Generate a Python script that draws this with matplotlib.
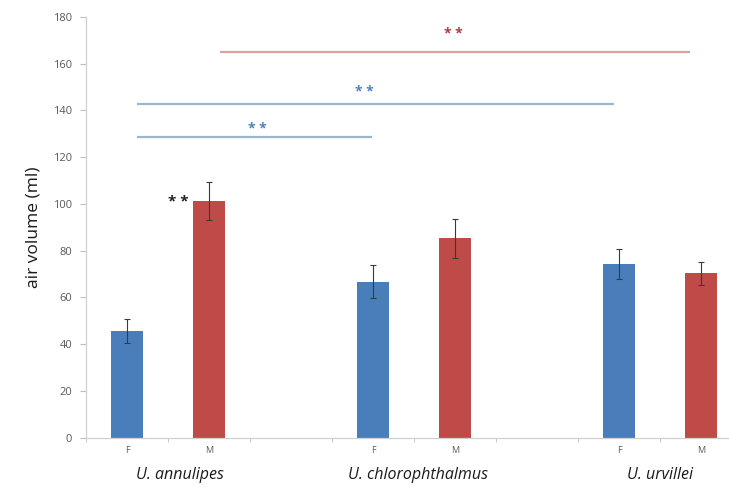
import matplotlib.pyplot as plt
import matplotlib.transforms as mtransforms

plt.rcParams['font.family'] = ['Open Sans', 'DejaVu Sans']

# bar data: F/M per species, with a blank slot between species
species = ['U. annulipes', 'U. chlorophthalmus', 'U. urvillei']
sex_labels = ['F', 'M', '', 'F', 'M', '', 'F', 'M']
female_mean = [45.7, 66.8, 74.2]
female_err = [5.3, 7.0, 6.5]
male_mean = [101.3, 85.3, 70.3]
male_err = [8.0, 8.3, 5.0]

# significance brackets between groups
sig_x0 = [0.12, 0.12, 1.13]
sig_x1 = [2.99, 5.94, 6.87]
sig_y = [128.8, 142.8, 164.9]
sig_star_x = [1.59, 2.89, 3.98]
sig_star_y = [132.0, 147.8, 172.8]
sig_line_col = ['#9bb6cc', '#9bb6cc', '#d7a3a3']
sig_star_col = ['#4f81bd', '#4f81bd', '#b03a40']

blue = '#4a7ebb'
red = '#be4b48'

fig = plt.figure(figsize=(7.29, 4.87), dpi=100)
ax = fig.add_axes([86 / 729, 49.3 / 487, 656 / 729, 420.7 / 487])

f_pos = [0, 3, 6]
m_pos = [1, 4, 7]
ekw = dict(ecolor='#3a3a3a', elinewidth=0.8, capsize=2, capthick=0.8)
ax.bar(f_pos, female_mean, width=0.39, color=blue, yerr=female_err, error_kw=ekw, zorder=2)
ax.bar(m_pos, male_mean, width=0.39, color=red, yerr=male_err, error_kw=ekw, zorder=2)

ax.set_xlim(-0.5, 7.5)
ax.set_ylim(0, 180)
ax.set_yticks(range(0, 181, 20))

# category labels at centres, tick marks at boundaries
ax.set_xticks(range(8))
ax.set_xticklabels(sex_labels, fontsize=6.5, color='#595959')
ax.tick_params(axis='x', length=0, pad=6)
ax.set_xticks([i - 0.5 for i in range(9)], minor=True)
ax.tick_params(axis='x', which='minor', length=3, color='#bfbfbf', direction='out')
ax.tick_params(axis='y', labelsize=8, labelcolor='#595959', length=4, color='#bfbfbf', pad=6)

for s in ['top', 'right']:
    ax.spines[s].set_visible(False)
for s in ['left', 'bottom']:
    ax.spines[s].set_color('#d0d0d0')
    ax.spines[s].set_linewidth(0.9)

ax.set_ylabel('air volume (ml)', fontsize=12.5, color='#1a1a1a', labelpad=8)

trans = mtransforms.blended_transform_factory(ax.transData, ax.transAxes)
for name, x in zip(species, [0.65, 3.55, 6.5]):
    ax.text(x, -0.088, name, transform=trans, ha='center', va='center',
            fontsize=11.5, style='italic', color='#1a1a1a')

for x0, x1, y, lc, sx, sy, sc in zip(sig_x0, sig_x1, sig_y, sig_line_col,
                                     sig_star_x, sig_star_y, sig_star_col):
    ax.plot([x0, x1], [y, y], color=lc, lw=1.6, solid_capstyle='butt', zorder=3)
    ax.text(sx, sy, '* *', ha='center', va='center', fontsize=10, fontweight='bold', color=sc)

ax.text(0.63, 101.0, '* *', ha='center', va='center', fontsize=11, fontweight='bold', color='#222222')

fig.savefig('out.png', dpi=100)
